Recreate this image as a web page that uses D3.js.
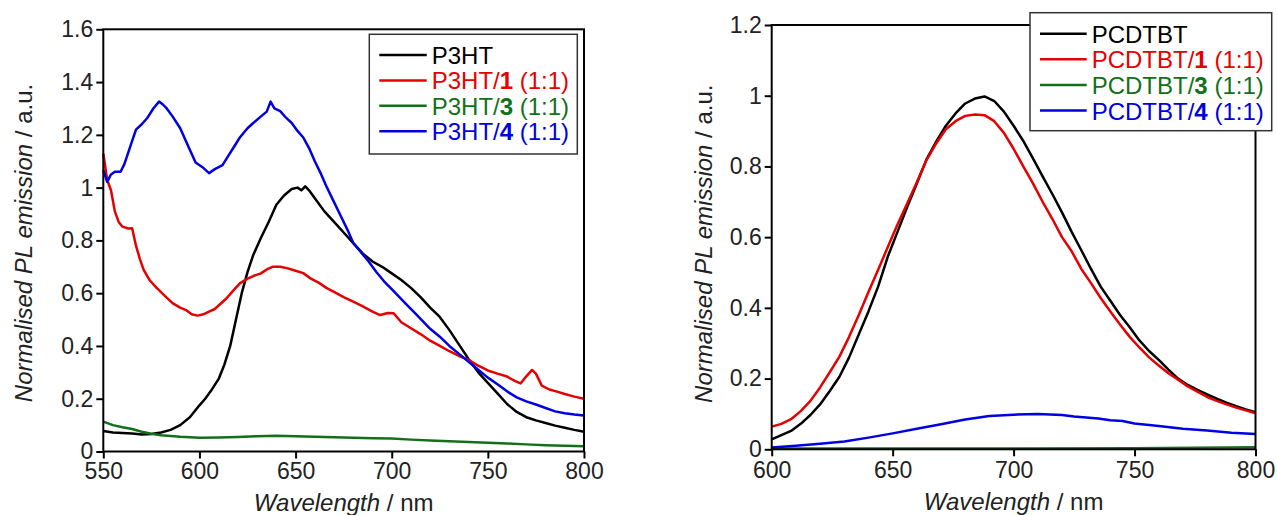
<!DOCTYPE html>
<html lang="en">
<head>
    <meta charset="UTF-8">
    <title>Normalised PL emission</title>
    <script src="https://d3js.org/d3.v7.min.js"></script>
    <style>
        body {
            margin: 0;
            background: #fff;
            font-family: Arial, "Liberation Sans", sans-serif;
        }
        .tick text { font-size: 23px; fill: #222; }
        .tick line { stroke: #000; stroke-width: 2px; }
        .frame { fill: none; stroke: #000; stroke-width: 2px; }
        .curve { fill: none; stroke-width: 2.5px; stroke-linejoin: round; }
        .title { font-size: 24px; fill: #222; }
        .legend-box { fill: #fff; stroke: #333; stroke-width: 1.5px; }
        .legend text { font-size: 24px; }
    </style>
</head>
<body>
    <svg id="chart" width="1277" height="515"></svg>
    <script>
        // ---- left panel: P3HT blends ----
        const p3ht = [[550,0.078],[555,0.072],[560,0.07],[565,0.068],[570,0.064],[575,0.066],[580,0.072],[585,0.082],[590,0.1],[595,0.13],[600,0.175],[603,0.2],[606,0.23],[610,0.275],[613,0.33],[616,0.4],[619,0.5],[622,0.6],[625,0.68],[628,0.745],[632,0.81],[636,0.87],[640,0.935],[644,0.97],[648,0.995],[651,1.0],[653,0.99],[655,1.005],[657,0.99],[660,0.96],[665,0.91],[670,0.87],[675,0.83],[680,0.79],[685,0.75],[690,0.72],[695,0.70],[700,0.675],[705,0.65],[710,0.62],[715,0.585],[720,0.545],[725,0.51],[730,0.46],[735,0.405],[740,0.35],[745,0.30],[750,0.26],[755,0.22],[760,0.18],[765,0.15],[770,0.13],[775,0.118],[780,0.108],[785,0.098],[790,0.09],[795,0.082],[800,0.075]];
        const p3ht1 = [[550,1.13],[552,1.03],[554,0.99],[556,0.91],[558,0.87],[560,0.852],[563,0.845],[565,0.846],[567,0.78],[569,0.73],[571,0.688],[574,0.65],[578,0.618],[582,0.59],[586,0.562],[590,0.545],[593,0.536],[596,0.52],[599,0.515],[602,0.52],[605,0.53],[608,0.54],[611,0.56],[614,0.58],[617,0.605],[621,0.637],[625,0.655],[628,0.665],[632,0.675],[635,0.69],[638,0.70],[642,0.7],[646,0.694],[650,0.685],[654,0.676],[658,0.655],[662,0.64],[666,0.62],[670,0.605],[675,0.585],[680,0.568],[685,0.55],[690,0.53],[694,0.517],[698,0.525],[701,0.524],[705,0.49],[710,0.467],[715,0.445],[720,0.42],[725,0.4],[730,0.38],[735,0.362],[740,0.347],[745,0.325],[750,0.307],[755,0.295],[760,0.284],[764,0.268],[767,0.258],[770,0.285],[773,0.309],[775,0.295],[778,0.25],[782,0.235],[786,0.227],[790,0.218],[795,0.208],[800,0.2]];
        const p3ht3 = [[550,0.113],[555,0.1],[560,0.092],[565,0.085],[570,0.075],[575,0.067],[580,0.062],[590,0.056],[600,0.052],[610,0.053],[620,0.055],[630,0.058],[640,0.06],[650,0.058],[660,0.056],[670,0.054],[680,0.052],[690,0.05],[700,0.049],[710,0.045],[720,0.042],[730,0.039],[740,0.036],[750,0.033],[760,0.03],[770,0.027],[780,0.024],[790,0.022],[800,0.02]];
        const p3ht4 = [[550,1.067],[552,1.022],[554,1.05],[556,1.06],[559,1.06],[561,1.09],[564,1.155],[567,1.22],[570,1.24],[573,1.265],[576,1.3],[579,1.326],[581,1.315],[583,1.30],[586,1.27],[590,1.225],[594,1.16],[598,1.095],[602,1.075],[605,1.055],[608,1.07],[612,1.085],[615,1.12],[618,1.155],[621,1.19],[625,1.225],[628,1.245],[632,1.27],[635,1.288],[637,1.326],[639,1.3],[642,1.29],[645,1.265],[648,1.245],[651,1.215],[654,1.19],[657,1.15],[660,1.1],[663,1.055],[666,1.005],[670,0.945],[673,0.9],[677,0.84],[680,0.79],[684,0.755],[688,0.72],[692,0.68],[696,0.645],[700,0.615],[704,0.585],[708,0.555],[712,0.525],[716,0.495],[720,0.465],[725,0.435],[730,0.4],[735,0.37],[740,0.34],[745,0.31],[750,0.28],[755,0.255],[760,0.228],[765,0.205],[770,0.19],[775,0.178],[780,0.165],[785,0.152],[790,0.145],[795,0.14],[800,0.136]];

        // ---- right panel: PCDTBT blends ----
        const pcdtbt = [[600,0.028],[604,0.04],[608,0.052],[612,0.072],[616,0.097],[620,0.127],[624,0.165],[628,0.205],[632,0.26],[636,0.325],[640,0.39],[644,0.46],[648,0.545],[652,0.615],[656,0.685],[660,0.752],[664,0.82],[668,0.87],[672,0.915],[676,0.95],[680,0.978],[684,0.992],[688,0.998],[692,0.985],[696,0.955],[700,0.915],[704,0.872],[708,0.823],[712,0.772],[716,0.722],[720,0.67],[724,0.615],[728,0.563],[732,0.51],[736,0.46],[740,0.42],[744,0.38],[748,0.345],[752,0.308],[756,0.278],[760,0.253],[764,0.225],[768,0.2],[772,0.182],[776,0.168],[780,0.155],[784,0.143],[788,0.132],[792,0.122],[796,0.113],[800,0.105]];
        const pcdtbt1 = [[600,0.064],[604,0.072],[608,0.085],[612,0.108],[616,0.137],[620,0.175],[624,0.218],[628,0.262],[632,0.318],[636,0.38],[640,0.445],[644,0.508],[648,0.572],[652,0.636],[656,0.695],[660,0.755],[664,0.818],[668,0.865],[672,0.905],[676,0.928],[680,0.943],[684,0.947],[688,0.945],[692,0.928],[696,0.895],[700,0.85],[704,0.8],[708,0.752],[712,0.7],[716,0.652],[720,0.6],[724,0.56],[728,0.51],[732,0.47],[736,0.428],[740,0.39],[744,0.353],[748,0.318],[752,0.288],[756,0.26],[760,0.237],[764,0.215],[768,0.197],[772,0.178],[776,0.163],[780,0.148],[784,0.137],[788,0.127],[792,0.118],[796,0.11],[800,0.102]];
        const pcdtbt3 = [[600,0.002],[650,0.002],[700,0.002],[750,0.003],[800,0.006]];
        const pcdtbt4 = [[600,0.005],[610,0.01],[620,0.016],[630,0.022],[640,0.033],[650,0.045],[660,0.058],[670,0.071],[680,0.084],[690,0.094],[700,0.098],[710,0.1],[720,0.097],[725,0.093],[730,0.09],[735,0.087],[740,0.082],[745,0.08],[750,0.073],[760,0.066],[770,0.058],[780,0.053],[790,0.047],[800,0.043]];

        const leftXTicks = [550, 600, 650, 700, 750, 800];
        const leftYTicks = [0, 0.2, 0.4, 0.6, 0.8, 1, 1.2, 1.4, 1.6];
        const rightXTicks = [600, 650, 700, 750, 800];
        const rightYTicks = [0, 0.2, 0.4, 0.6, 0.8, 1, 1.2];

        const colors = ["#000000", "#e60000", "#13701a", "#0000e0"];

        const svg = d3.select("#chart");
        const fmt = d => String(+d.toFixed(1));

        function drawPanel(p) {
            const x = d3.scaleLinear().domain(p.xDomain).range([p.left, p.right]);
            const y = d3.scaleLinear().domain(p.yDomain).range([p.bottom, p.top]);
            const g = svg.append("g");

            g.append("g")
                .attr("transform", `translate(0,${p.bottom})`)
                .call(d3.axisBottom(x).tickValues(p.xTicks).tickSize(7).tickSizeOuter(0).tickPadding(p.xPad))
                .call(a => a.select(".domain").remove())
                .call(a => a.selectAll("text").attr("font-family", null).attr("font-size", null));

            g.append("g")
                .attr("transform", `translate(${p.left},0)`)
                .call(d3.axisLeft(y).tickValues(p.yTicks).tickFormat(fmt).tickSize(7).tickSizeOuter(0).tickPadding(3))
                .call(a => a.select(".domain").remove())
                .call(a => a.selectAll("text").attr("font-family", null).attr("font-size", null));

            const line = d3.line().x(d => x(d[0])).y(d => y(d[1]));
            p.series.forEach((s, i) => {
                g.append("path")
                    .datum(s)
                    .attr("class", "curve")
                    .attr("stroke", colors[i])
                    .attr("d", line);
            });

            g.append("rect")
                .attr("class", "frame")
                .attr("x", p.left).attr("y", p.top)
                .attr("width", p.right - p.left).attr("height", p.bottom - p.top);

            // x title
            const xt = g.append("text").attr("class", "title")
                .attr("x", (p.left + p.right) / 2).attr("y", p.xTitleY)
                .attr("text-anchor", "middle");
            xt.append("tspan").attr("font-style", "italic").text("Wavelength");
            xt.append("tspan").text(" / nm");

            // y title
            const yt = g.append("text").attr("class", "title")
                .attr("transform", `translate(${p.yTitleX},${p.yTitleY}) rotate(-90)`)
                .attr("text-anchor", "middle");
            yt.append("tspan").attr("font-style", "italic").text("Normalised PL emission");
            yt.append("tspan").text(" / a.u.");

            // legend
            const lg = g.append("g").attr("class", "legend");
            lg.append("rect").attr("class", "legend-box")
                .attr("x", p.legend.x0).attr("y", p.legend.y0)
                .attr("width", p.legend.x1 - p.legend.x0).attr("height", p.legend.y1 - p.legend.y0);
            p.labels.forEach((lab, i) => {
                const base = p.legend.base + i * p.legend.step;
                lg.append("line")
                    .attr("x1", p.legend.l0).attr("x2", p.legend.l1)
                    .attr("y1", base - 9).attr("y2", base - 9)
                    .attr("stroke", colors[i]).attr("stroke-width", 2.5);
                const t = lg.append("text").attr("x", p.legend.tx).attr("y", base).attr("fill", colors[i]);
                t.append("tspan").text(p.name + (lab ? "/" : ""));
                if (lab) {
                    t.append("tspan").attr("font-weight", "bold").text(lab);
                    t.append("tspan").text(" (1:1)");
                }
            });
        }

        drawPanel({
            xDomain: [550, 800], yDomain: [0, 1.6],
            left: 103.3, right: 584, top: 29.3, bottom: 451.5,
            xTicks: leftXTicks, yTicks: leftYTicks, xPad: 4.5,
            series: [p3ht, p3ht1, p3ht3, p3ht4],
            name: "P3HT", labels: ["", "1", "3", "4"],
            xTitleY: 511, yTitleX: 31.7, yTitleY: 243,
            legend: { x0: 369.3, x1: 577.3, y0: 34.3, y1: 154, l0: 379.3, l1: 426.7, tx: 431.7, base: 64, step: 25.4 }
        });

        drawPanel({
            xDomain: [600, 800], yDomain: [0, 1.2],
            left: 771.7, right: 1255.5, top: 25, bottom: 449.3,
            xTicks: rightXTicks, yTicks: rightYTicks, xPad: 5.5,
            series: [pcdtbt, pcdtbt1, pcdtbt3, pcdtbt4],
            name: "PCDTBT", labels: ["", "1", "3", "4"],
            xTitleY: 510, yTitleX: 711.7, yTitleY: 243.7,
            legend: { x0: 1030, x1: 1271.7, y0: 12.7, y1: 130.7, l0: 1040, l1: 1086.7, tx: 1091.7, base: 42.7, step: 25.6 }
        });
    </script>
</body>
</html>
